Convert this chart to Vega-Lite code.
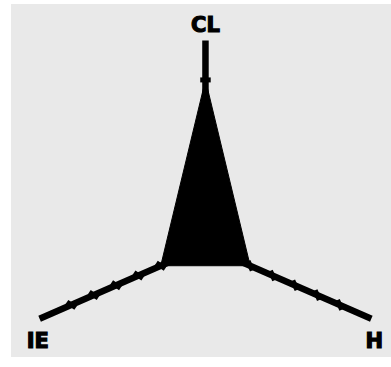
{
  "$schema": "https://vega.github.io/schema/vega-lite/v6.json",
  "width": 391,
  "height": 367,
  "autosize": {"type": "fit", "contains": "padding"},
  "padding": {"left": 11, "top": 4, "right": 0, "bottom": 10},
  "background": "white",
  "config": {"view": {"fill": "#e9e9e9", "stroke": null}},
  "datasets": {
    "spokes": [
      {"axis": "CL", "x": 0, "y": 0, "xe": 0, "ye": 7.42},
      {"axis": "IE", "x": 0, "y": 0, "xe": -7.42, "ye": -2.62},
      {"axis": "H", "x": 0, "y": 0, "xe": 7.42, "ye": -2.62}
    ],
    "shape": [
      {"axis": "CL", "value": 6, "o": 1, "x": 0, "y": 6},
      {"axis": "H", "value": 2, "o": 2, "x": 2, "y": -0.706},
      {"axis": "IE", "value": 2, "o": 3, "x": -2, "y": -0.706},
      {"axis": "CL", "value": 6, "o": 4, "x": 0, "y": 6}
    ],
    "ticks": [
      {"axis": "CL", "v": 1, "x": 0, "y": 1},
      {"axis": "CL", "v": 2, "x": 0, "y": 2},
      {"axis": "CL", "v": 3, "x": 0, "y": 3},
      {"axis": "CL", "v": 4, "x": 0, "y": 4},
      {"axis": "CL", "v": 5, "x": 0, "y": 5},
      {"axis": "CL", "v": 6, "x": 0, "y": 6},
      {"axis": "IE", "v": 1, "x": -1, "y": -0.353},
      {"axis": "IE", "v": 2, "x": -2, "y": -0.706},
      {"axis": "IE", "v": 3, "x": -3, "y": -1.059},
      {"axis": "IE", "v": 4, "x": -4, "y": -1.412},
      {"axis": "IE", "v": 5, "x": -5, "y": -1.765},
      {"axis": "IE", "v": 6, "x": -6, "y": -2.118},
      {"axis": "H", "v": 1, "x": 1, "y": -0.353},
      {"axis": "H", "v": 2, "x": 2, "y": -0.706},
      {"axis": "H", "v": 3, "x": 3, "y": -1.059},
      {"axis": "H", "v": 4, "x": 4, "y": -1.412},
      {"axis": "H", "v": 5, "x": 5, "y": -1.765},
      {"axis": "H", "v": 6, "x": 6, "y": -2.118}
    ],
    "labels": [
      {"axis": "CL", "x": 0, "y": 7.96},
      {"axis": "IE", "x": -7.5, "y": -3.45},
      {"axis": "H", "x": 7.55, "y": -3.45}
    ]
  },
  "layer": [
    {
      "data": {"name": "spokes"},
      "mark": {"type": "rule", "color": "black", "strokeWidth": 6.5, "strokeCap": "butt"},
      "encoding": {
        "x": {"field": "x", "type": "quantitative", "scale": {"domain": [-8.7, 8.3], "nice": false, "zero": false}, "axis": null},
        "y": {"field": "y", "type": "quantitative", "scale": {"domain": [-4.0, 8.74], "nice": false, "zero": false}, "axis": null},
        "x2": {"field": "xe"},
        "y2": {"field": "ye"}
      }
    },
    {
      "data": {"name": "ticks"},
      "mark": {"type": "point", "shape": "stroke", "filled": false, "color": "black", "strokeWidth": 5, "size": 110, "opacity": 1},
      "encoding": {
        "x": {"field": "x", "type": "quantitative"},
        "y": {"field": "y", "type": "quantitative"},
        "angle": {"field": "axis", "type": "nominal", "scale": {"domain": ["CL", "IE", "H"], "range": [0, 66.5, 113.5]}, "legend": null}
      }
    },
    {
      "data": {"name": "shape"},
      "mark": {"type": "line", "fill": "black", "stroke": "black", "strokeWidth": 1, "interpolate": "linear-closed"},
      "encoding": {
        "x": {"field": "x", "type": "quantitative"},
        "y": {"field": "y", "type": "quantitative"},
        "order": {"field": "o", "type": "quantitative"}
      }
    },
    {
      "data": {"name": "labels"},
      "mark": {"type": "text", "font": "DejaVu Sans", "fontWeight": "bold", "fontSize": 21, "color": "black", "stroke": "black", "strokeWidth": 1.2, "align": "center", "baseline": "middle"},
      "encoding": {
        "x": {"field": "x", "type": "quantitative"},
        "y": {"field": "y", "type": "quantitative"},
        "text": {"field": "axis", "type": "nominal"}
      }
    }
  ]
}
